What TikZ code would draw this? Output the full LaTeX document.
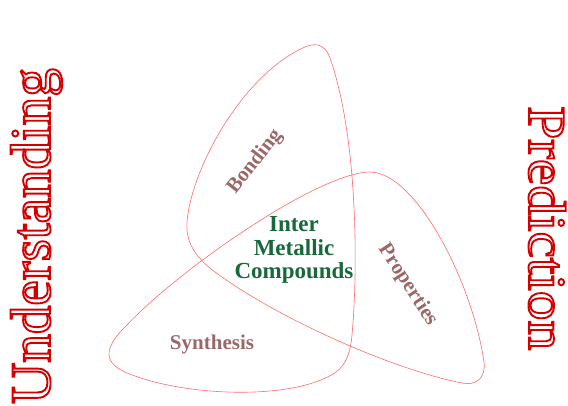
\documentclass[tikz,border=0pt]{standalone}
\usepackage{fontspec}
\setmainfont{Liberation Serif}
\newfontfamily\widefont[FakeStretch=1.12]{Liberation Serif}
\usetikzlibrary{positioning}
\definecolor{lobe}{HTML}{FF6A6A}
\definecolor{heading}{HTML}{D40000}
\definecolor{topic}{HTML}{9A6868}
\definecolor{compound}{HTML}{17683A}

% hollow letters: stroke only
\newcommand{\hollowtext}[1]{\special{pdf:literal direct 1 Tr 1.9 w}#1\special{pdf:literal direct 0 Tr}}

\tikzset{
	topiclabel/.style={text=topic, inner sep=0pt, font=\bfseries\fontsize{21}{21}\selectfont},
	headinglabel/.style={text=heading, inner sep=0pt},
}

\begin{document}
\begin{tikzpicture}[x=1pt, y=-1pt]
	\useasboundingbox (0,0) rectangle (568,405);
	% three overlapping lobes, one closed line
	\draw[lobe, line width=0.6pt] (305,47) .. controls (245,73) and (192,165) .. (187,222)
		.. controls (185,245) and (200,261) .. (215,272)
		.. controls (280,320) and (395,370) .. (462,383)
		.. controls (476,386) and (486,378) .. (484,362)
		.. controls (472,280) and (415,172) .. (370,172)
		.. controls (320,172) and (180,268) .. (125,327)
		.. controls (100,352) and (105,366) .. (135,376)
		.. controls (190,396) and (290,400) .. (333,374)
		.. controls (343,368) and (350,358) .. (352,335)
		.. controls (358,270) and (358,138) .. (330,58)
		.. controls (324,42) and (313,43.4) .. (305,47) -- cycle;
	% centre
	\node[text=compound, inner sep=0pt, align=center, font=\bfseries\fontsize{23}{23.5}\selectfont] (imc) at (294,250) {Inter\\Metallic\\Compounds};
	% the three fields
	\node[topiclabel, rotate=52] (bonding) at (255,162) {Bonding};
	\node[topiclabel, rotate=-57] (properties) at (408,285) {Properties};
	\node[topiclabel] (synthesis) at (212,344) {Synthesis};
	% side headings
	\node[headinglabel, rotate=90, anchor=base west, font=\fontsize{57}{57}\selectfont] (understanding) at (50,404) {\hollowtext{Understanding}};
	\node[headinglabel, rotate=-90, anchor=base west, font=\widefont\fontsize{53}{53}\selectfont] (prediction) at (529,106) {\hollowtext{Prediction}};
\end{tikzpicture}
\end{document}
